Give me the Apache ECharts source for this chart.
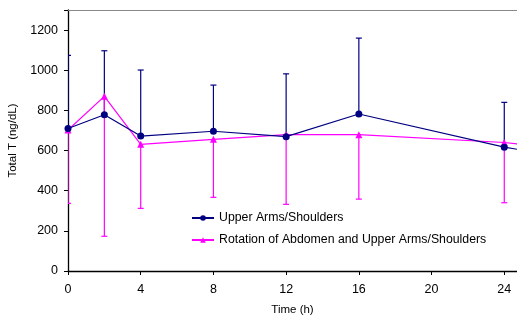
<!DOCTYPE html>
<html><head><meta charset="utf-8">
<script src="https://cdn.jsdelivr.net/npm/echarts@6/dist/echarts.min.js"></script>
<style>html,body{margin:0;padding:0;background:#fff}#c{width:517px;height:317px}</style>
</head><body><div id="c"></div>
<script>
var times = [0, 2, 4, 8, 12, 16, 24, 25];
var upperArms = [710, 778, 672, 696, 669, 782, 617, 602];
var upperArmsHigh = [1074, 1097, 1001, 926, 982, 1160, 840, null];
var rotation = [702, 870, 631, 656, 679, 679, 640, 630];
var rotationLow = [337, 173, 312, 367, 332, 358, 340, null];
var xTicks = [0, 4, 8, 12, 16, 20, 24];
var yTicks = [0, 200, 400, 600, 800, 1000, 1200];
var NAVY = '#000080', MAG = '#ff00ff';

function pairs(xs, ys) { return xs.map(function (x, i) { return [x, ys[i]]; }); }
function errData(xs, ys, es) {
  var out = [];
  xs.forEach(function (x, i) { if (es[i] != null) out.push([x, ys[i], es[i]]); });
  return out;
}
function errRender(color) {
  return function (params, api) {
    var p1 = api.coord([api.value(0), api.value(1)]);
    var p2 = api.coord([api.value(0), api.value(2)]);
    var w = 3;
    return {
      type: 'group',
      children: [
        { type: 'line', shape: { x1: p1[0], y1: p1[1], x2: p2[0], y2: p2[1] }, style: { stroke: color, lineWidth: 1.2 } },
        { type: 'line', shape: { x1: p2[0] - w, y1: p2[1], x2: p2[0] + w, y2: p2[1] }, style: { stroke: color, lineWidth: 1.2 } }
      ]
    };
  };
}

var chart = echarts.init(document.getElementById('c'), null, { renderer: 'canvas' });
chart.setOption({
  animation: false,
  textStyle: { fontFamily: 'Liberation Sans, Arial, sans-serif' },
  grid: { left: 68, right: 0, top: 10, bottom: 46, outerBoundsMode: 'none', containLabel: false },
  xAxis: [{
    type: 'value', min: 0, max: 24.7, interval: 4,
    name: 'Time (h)', nameLocation: 'middle', nameGap: 33,
    nameTextStyle: { fontSize: 11.5, color: '#000' },
    axisLine: { onZero: false, lineStyle: { color: '#000', width: 1.3 } },
    axisTick: { show: true, length: 4, lineStyle: { color: '#000' } },
    axisLabel: { fontSize: 12.5, color: '#000', margin: 12,
      formatter: function (v) { return xTicks.indexOf(v) >= 0 ? String(v) : ''; } },
    splitLine: { show: false }
  }, {
    type: 'value', min: 0, max: 24.7, position: 'top',
    axisLine: { show: true, onZero: false, lineStyle: { color: '#888', width: 1 } },
    axisTick: { show: false }, axisLabel: { show: false }, splitLine: { show: false }
  }],
  yAxis: {
    type: 'value', min: 0, max: 1300, interval: 200,
    name: 'Total T (ng/dL)', nameLocation: 'middle', nameGap: 44,
    nameTextStyle: { fontSize: 11.5, color: '#000' },
    axisLine: { show: true, lineStyle: { color: '#000', width: 1.3 } },
    axisTick: { show: true, length: 4, lineStyle: { color: '#000' } },
    axisLabel: { fontSize: 12.5, color: '#000', margin: 10,
      formatter: function (v) { return yTicks.indexOf(v) >= 0 ? String(v) : ''; } },
    splitLine: { show: false }
  },
  legend: {
    left: 186, top: 207, orient: 'vertical', itemGap: 10,
    itemWidth: 22, itemHeight: 7,
    textStyle: { fontSize: 12.3, color: '#000' },
    data: ['Upper Arms/Shoulders', 'Rotation of Abdomen and Upper Arms/Shoulders']
  },
  series: [
    { type: 'custom', name: 'errU', renderItem: errRender(NAVY), data: errData(times, upperArms, upperArmsHigh), z: 1, clip: true, silent: true },
    { type: 'custom', name: 'errR', renderItem: errRender(MAG), data: errData(times, rotation, rotationLow), z: 1, clip: true, silent: true },
    { type: 'line', name: 'Rotation of Abdomen and Upper Arms/Shoulders', data: pairs(times, rotation),
      symbol: 'triangle', symbolSize: 7, showAllSymbol: true, clip: true,
      lineStyle: { color: MAG, width: 1.2 }, itemStyle: { color: MAG, borderWidth: 0 }, z: 3 },
    { type: 'line', name: 'Upper Arms/Shoulders', data: pairs(times, upperArms),
      symbol: 'circle', symbolSize: 7, showAllSymbol: true, clip: true,
      lineStyle: { color: NAVY, width: 1.2 }, itemStyle: { color: NAVY, borderWidth: 0 }, z: 4 }
  ]
});
</script></body></html>
